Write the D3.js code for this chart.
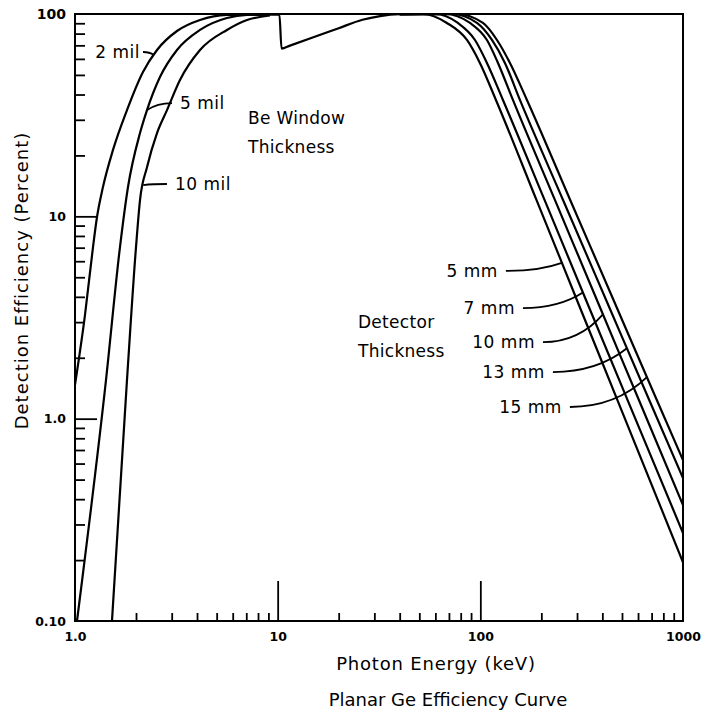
<!DOCTYPE html>
<html><head><meta charset="utf-8">
<script src="https://cdn.jsdelivr.net/npm/d3@7"></script>
<style>body{margin:0;background:#fff}svg{display:block}</style>
</head><body>
<svg id="chart" width="707" height="725"></svg>
<script>
// ---------- data ----------
// Be window curves (low energy side)
const energy2mil  = [1.0, 1.12, 1.227, 1.284, 1.374, 1.54, 1.805, 2.165, 2.539, 3.186, 4.138, 5.62, 8.18];
const eff2mil     = [1.47, 3.25, 7.05, 9.92, 13.96, 21.3, 33.5, 51.7, 66.4, 82.4, 93.4, 98.9, 99.3];
const energy5mil  = [1.023, 1.422, 1.667, 1.826, 2.093, 2.266, 2.626, 3.186, 4.138, 5.62, 7.056, 9.16];
const eff5mil     = [0.1, 1.55, 7.05, 13.96, 25.8, 33.5, 48.8, 66.4, 83.4, 95.5, 98.9, 99.3];
const energy10mil = [1.522, 1.805, 2.0, 2.093, 2.266, 2.539, 2.844, 3.296, 4.138, 5.62, 7.056, 9.16];
const eff10mil    = [0.1, 1.55, 7.05, 12.04, 17.5, 25.8, 33.5, 47.2, 66.4, 83.4, 93.4, 98.3];
// common part (Ge K edge region)
const energyCommon = [8.2, 10.2, 10.45, 11.5, 15, 20, 26.2, 32, 40, 52];
const effCommon    = [99.3, 99.4, 67.5, 69.8, 76.7, 85.1, 93.6, 97.6, 99.7, 100];
// detector thickness curves (high energy side)
const energy5mm  = [40, 52.1, 68.4, 85.9, 99.5, 119.4, 189.2, 299.6, 474.7, 1000];
const eff5mm     = [99.7, 100, 90.3, 74.4, 57.3, 37.6, 12.05, 3.86, 1.236, 0.195];
const energy7mm  = [40, 59.7, 77.5, 94.1, 107.8, 129.3, 207.4, 332.2, 532.9, 1000];
const eff7mm     = [99.7, 100, 90.3, 74.4, 57.3, 37.6, 12.05, 3.86, 1.236, 0.272];
const energy10mm = [40, 66.9, 88.9, 107.8, 122.2, 144.8, 233.3, 376.0, 605.9, 1000];
const eff10mm    = [99.7, 100, 90.3, 74.4, 57.3, 37.6, 12.05, 3.86, 1.236, 0.374];
const energy13mm = [40, 72.4, 96.2, 114.1, 132.2, 156.8, 255.9, 417.5, 681.2, 1000];
const eff13mm    = [99.7, 100, 90.3, 74.4, 57.3, 37.6, 12.05, 3.86, 1.236, 0.508];
const energy15mm = [40, 76.7, 103.0, 120.8, 140.0, 169.8, 277.6, 454.1, 742.6, 1000];
const eff15mm    = [99.7, 100, 90.3, 74.4, 57.3, 37.6, 12.05, 3.86, 1.236, 0.624];

const seriesNames = ["2 mil", "5 mil", "10 mil", "common", "5 mm", "7 mm", "10 mm", "13 mm", "15 mm"];

// tick labels
const xTickValues = [1, 10, 100, 1000];
const xTickLabels = ["1.0", "10", "100", "1000"];
const yTickValues = [0.1, 1, 10, 100];
const yTickLabels = ["0.10", "1.0", "10", "100"];

// annotation texts with anchor positions in data units (keV, percent)
const annoText    = ["2 mil", "5 mil", "10 mil", "5 mm", "7 mm", "10 mm", "13 mm", "15 mm"];
const annoSeries  = ["2 mil", "5 mil", "10 mil", "5 mm", "7 mm", "10 mm", "13 mm", "15 mm"];
const annoTargetE = [2.45, 2.266, 2.17, 252.6, 320.8, 402.6, 528.9, 663.7];
const annoLabelE  = [2.093, 3.296, 3.113, 122.1, 148.2, 186, 208.3, 252.7];
const annoLabelV  = [64.9, 36.3, 14.45, 5.37, 3.52, 2.39, 1.70, 1.142];

const titleX = "Photon Energy (keV)";
const titleY = "Detection Efficiency (Percent)";
const caption = "Planar Ge Efficiency Curve";

// ---------- build ----------
const series = {
  "2 mil":  d3.zip(energy2mil, eff2mil),
  "5 mil":  d3.zip(energy5mil, eff5mil),
  "10 mil": d3.zip(energy10mil, eff10mil),
  "common": d3.zip(energyCommon, effCommon),
  "5 mm":   d3.zip(energy5mm, eff5mm),
  "7 mm":   d3.zip(energy7mm, eff7mm),
  "10 mm":  d3.zip(energy10mm, eff10mm),
  "13 mm":  d3.zip(energy13mm, eff13mm),
  "15 mm":  d3.zip(energy15mm, eff15mm)
};

const L = 75, R = 683, T = 14, B = 621;
const FONT = "'DejaVu Sans', 'Liberation Sans', sans-serif";

const svg = d3.select("#chart");
const x = d3.scaleLog().domain([1, 1000]).range([L, R]);
const y = d3.scaleLog().domain([0.1, 100]).range([B, T]);

// minor tick positions
const minor = [];
[1, 10, 100].forEach(d => { for (let k = 2; k <= 9; k++) minor.push(d * k); });
const minorY = [];
[0.1, 1, 10].forEach(d => { for (let k = 2; k <= 9; k++) minorY.push(+(d * k).toPrecision(3)); });

function styleAxis(g) {
  g.select(".domain").remove();
  g.selectAll(".tick line").attr("stroke", "#000").attr("stroke-width", 1.8);
}

// x minor / major ticks (inward)
svg.append("g").attr("transform", `translate(0,${B})`)
  .call(d3.axisBottom(x).tickValues(minor).tickSize(-8).tickFormat(""))
  .call(styleAxis);
svg.append("g").attr("transform", `translate(0,${B})`)
  .call(d3.axisBottom(x).tickValues([10, 100]).tickSize(-40).tickFormat(""))
  .call(styleAxis);
// y minor / major ticks (inward)
svg.append("g").attr("transform", `translate(${L},0)`)
  .call(d3.axisLeft(y).tickValues(minorY).tickSize(-10).tickFormat(""))
  .call(styleAxis);
svg.append("g").attr("transform", `translate(${L},0)`)
  .call(d3.axisLeft(y).tickValues([1, 10]).tickSize(-22).tickFormat(""))
  .call(styleAxis);

// tick labels
const xl = svg.append("g").attr("transform", `translate(0,${B})`)
  .call(d3.axisBottom(x).tickValues(xTickValues).tickSize(0).tickPadding(11)
    .tickFormat((d, i) => xTickLabels[i]));
xl.select(".domain").remove();
xl.selectAll("text").attr("font-family", FONT).attr("font-size", 12.5)
  .attr("font-weight", "bold").attr("fill", "#000");
const yl = svg.append("g").attr("transform", `translate(${L},0)`)
  .call(d3.axisLeft(y).tickValues(yTickValues).tickSize(0).tickPadding(9)
    .tickFormat((d, i) => yTickLabels[i]));
yl.select(".domain").remove();
yl.selectAll("text").attr("font-family", FONT).attr("font-size", (d) => d === 100 ? 14 : 12.5)
  .attr("font-weight", "bold").attr("fill", "#000");

// frame
svg.append("rect").attr("x", L).attr("y", T).attr("width", R - L).attr("height", B - T)
  .attr("fill", "none").attr("stroke", "#000").attr("stroke-width", 2);

// curves
const line = d3.line().x(d => x(d[0])).y(d => y(d[1])).curve(d3.curveMonotoneX);
svg.append("g").selectAll("path").data(seriesNames).join("path")
  .attr("d", n => line(series[n]))
  .attr("fill", "none").attr("stroke", "#000").attr("stroke-width", 2.2)
  .attr("stroke-linejoin", "round");

// value on a series at energy e (log-log interpolation)
function valueAt(name, e) {
  const s = series[name];
  for (let i = 0; i < s.length - 1; i++) {
    if (e >= s[i][0] && e <= s[i + 1][0]) {
      const t = Math.log(e / s[i][0]) / Math.log(s[i + 1][0] / s[i][0]);
      return Math.exp(Math.log(s[i][1]) + t * Math.log(s[i + 1][1] / s[i][1]));
    }
  }
  return s[s.length - 1][1];
}

// annotations
const ann = svg.append("g");
annoText.forEach((txt, i) => {
  const lx = x(annoLabelE[i]), ly = y(annoLabelV[i]);
  const tx = x(annoTargetE[i]), ty = y(valueAt(annoSeries[i], annoTargetE[i]));
  const labelLeftOfTarget = lx < tx;
  const gap = i === 0 ? 3 : 8;
  const sx = labelLeftOfTarget ? lx + gap : lx - gap;
  const sy = ly;
  const cx = sx + 0.6 * (tx - sx), cy = sy;
  ann.append("path")
    .attr("d", `M${sx},${sy} Q${cx},${cy} ${tx},${ty}`)
    .attr("fill", "none").attr("stroke", "#000").attr("stroke-width", 1.8);
  ann.append("text").attr("x", lx).attr("y", ly).attr("dy", "0.35em")
    .attr("text-anchor", labelLeftOfTarget ? "end" : "start")
    .attr("font-family", FONT).attr("font-size", 17).attr("letter-spacing", 0.5)
    .attr("fill", "#000").text(txt);
});

// group labels
function twoLine(e, v, l1, l2) {
  const t = svg.append("text").attr("x", x(e)).attr("y", y(v)).attr("dy", "0.35em")
    .attr("font-family", FONT).attr("font-size", 17).attr("letter-spacing", 0.3).attr("fill", "#000");
  t.append("tspan").attr("x", x(e)).text(l1);
  t.append("tspan").attr("x", x(e)).attr("dy", "1.7em").text(l2);
}
twoLine(7.14, 30.6, "Be Window", "Thickness");
twoLine(24.9, 3.0, "Detector", "Thickness");

// titles
svg.append("text").attr("x", (L + R) / 2 + 57).attr("y", 664).attr("dy", "0.35em")
  .attr("text-anchor", "middle").attr("font-family", FONT).attr("font-size", 18)
  .attr("letter-spacing", 0.8).attr("fill", "#000").text(titleX);
svg.append("text").attr("transform", `translate(22,${(T + B) / 2 - 37}) rotate(-90)`)
  .attr("dy", "0.35em").attr("text-anchor", "middle").attr("font-family", FONT)
  .attr("font-size", 18).attr("letter-spacing", 1).attr("fill", "#000").text(titleY);
svg.append("text").attr("x", 448).attr("y", 700).attr("dy", "0.35em")
  .attr("text-anchor", "middle").attr("font-family", FONT).attr("font-size", 18)
  .attr("fill", "#000").text(caption);
</script>
</body></html>
